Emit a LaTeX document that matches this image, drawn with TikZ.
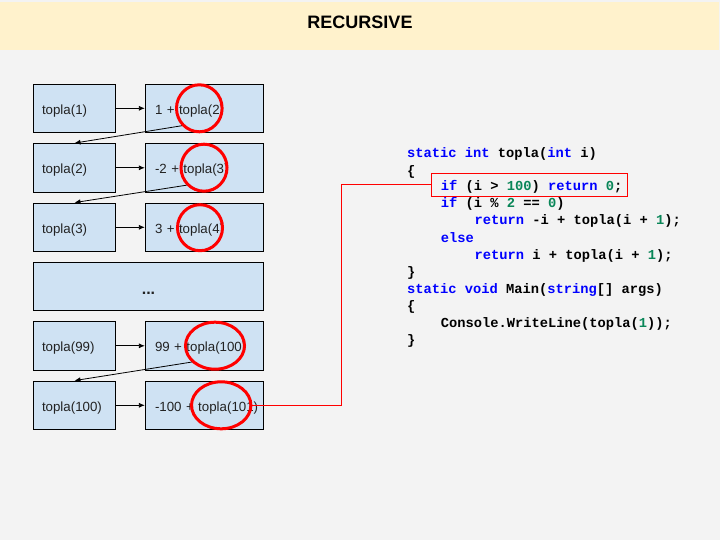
\documentclass[tikz,border=0pt]{standalone}
\usepackage{fontspec}
\setmainfont{Liberation Sans}
\newfontfamily\codefont{Liberation Mono}
\usetikzlibrary{shapes.geometric,arrows.meta}
\definecolor{bgc}{HTML}{F3F3F3}
\definecolor{band}{HTML}{FFF2CC}
\definecolor{boxblue}{HTML}{CFE2F3}
\definecolor{kw}{HTML}{0000FF}
\definecolor{num}{HTML}{098658}
\definecolor{hred}{HTML}{FF0000}
\definecolor{txt}{HTML}{222222}
\newcommand{\kw}[1]{\textcolor{kw}{#1}}
\newcommand{\nm}[1]{\textcolor{num}{#1}}
\tikzset{
  basebox/.style={draw=black, line width=0.9pt, fill=boxblue, rectangle, minimum height=48.5pt, align=left, text=txt, text height=14pt, text depth=2pt, font=\fontsize{13.3}{15}\selectfont},
  lbox/.style={basebox, minimum width=82.4pt, inner xsep=8.7pt, text width=65pt},
  rbox/.style={basebox, minimum width=118.4pt, inner xsep=9.7pt, text width=99pt},
  ring/.style={draw=hred, line width=3pt, ellipse, inner sep=0pt},
  arr/.style={draw=black, line width=0.8pt, -{Latex[length=6pt,width=5pt]}},
  codeline/.style={anchor=base west, inner sep=0pt, font=\codefont\bfseries\fontsize{13.75}{17}\selectfont},
}
\begin{document}
\begin{tikzpicture}[x=1pt,y=-1pt]
\useasboundingbox (0,0) rectangle (720,540);
\fill[bgc] (0,0) rectangle (720,540);
\fill[band] (0,1.7) rectangle (719,50);
\node[font=\bfseries\fontsize{18}{20}\selectfont] (title) at (360,22) {RECURSIVE};

% boxes
\node[lbox] (l1) at (74.5,108.3) {topla(1)};
\node[rbox] (r1) at (204.5,108.3) {\mbox{1 + topla(2)}};
\node[lbox] (l2) at (74.5,167.8) {topla(2)};
\node[rbox] (r2) at (204.5,167.8) {\mbox{-2 + topla(3)}};
\node[lbox] (l3) at (74.5,227.3) {topla(3)};
\node[rbox] (r3) at (204.5,227.3) {\mbox{3 + topla(4)}};
\node[draw=black, line width=0.9pt, fill=boxblue, minimum width=230.4pt, minimum height=48pt, text=txt, text height=16pt, text depth=0pt, font=\bfseries\fontsize{16}{18}\selectfont] (dots) at (148.5,286.3) {...};
\node[lbox] (l5) at (74.5,345.8) {topla(99)};
\node[rbox] (r5) at (204.5,345.8) {\mbox{99 + topla(100)}};
\node[lbox] (l6) at (74.5,405.3) {topla(100)};
\node[rbox] (r6) at (204.5,405.3) {\mbox{-100 + topla(101)}};

% rings
\node[ring, minimum width=45.6pt, minimum height=47pt] (e1) at (199.3,108.3) {};
\node[ring, minimum width=46pt, minimum height=47pt] (e2) at (204,167.7) {};
\node[ring, minimum width=45pt, minimum height=46pt] (e3) at (200,227.7) {};
\node[ring, minimum width=59pt, minimum height=47pt] (e5) at (215,345.7) {};
\node[ring, minimum width=59.4pt, minimum height=47pt] (e6) at (221.2,405.3) {};

% arrows
\draw[arr] (l1) -- (r1);
\draw[arr] (l2) -- (r2);
\draw[arr] (l3) -- (r3);
\draw[arr] (l5) -- (r5);
\draw[arr] (l6) -- (r6);
\draw[arr] (e1.225) -- (l2.north);
\draw[arr] (e2.225) -- (l3.north);
\draw[arr] (e5.215) -- (l6.north);

% code
\node[codeline] (c1) at (407,157.4) {\kw{static} \kw{int} topla(\kw{int} i)};
\node[codeline] (c2) at (407,175.4) {\{};
\node[codeline] (c3) at (440.7,190.7) {\kw{if} (i > \nm{100}) \kw{return} \nm{0};};
\node[codeline] (c4) at (440.7,207.4) {\kw{if} (i \% \nm{2} == \nm{0})};
\node[codeline] (c5) at (474.3,224.7) {\kw{return} -i + topla(i + \nm{1});};
\node[codeline] (c6) at (440.7,242) {\kw{else}};
\node[codeline] (c7) at (474.3,259) {\kw{return} i + topla(i + \nm{1});};
\node[codeline] (c8) at (407,276.4) {\}};
\node[codeline] (c9) at (407,293) {\kw{static} \kw{void} Main(\kw{string}[] args)};
\node[codeline] (c10) at (407,310.4) {\{};
\node[codeline] (c11) at (440.7,327.4) {Console.WriteLine(topla(\nm{1}));};
\node[codeline] (c12) at (407,344) {\}};

% highlight
\node[draw=hred, line width=0.9pt, minimum width=196pt, minimum height=22.7pt, inner sep=0pt] (hl) at (529.3,184.7) {};
\coordinate (bend) at (341.5,300);
\draw[hred, line width=0.9pt] (e6.east) -| (bend) |- (hl.west);
\end{tikzpicture}
\end{document}
